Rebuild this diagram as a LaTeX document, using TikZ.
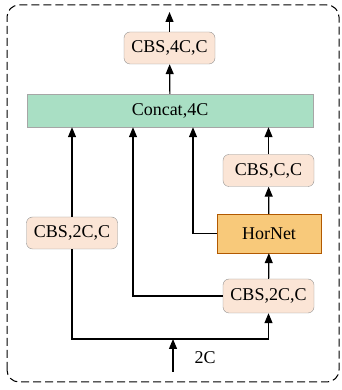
\documentclass[tikz,border=0pt]{standalone}
\usepackage{fontspec}
\setmainfont{Liberation Serif}
\usetikzlibrary{arrows.meta}
\definecolor{cbsfill}{HTML}{FBE5D6}
\definecolor{catfill}{HTML}{A9DFC4}
\definecolor{hornfill}{HTML}{F8C97A}
\begin{document}
\begin{tikzpicture}[x=1pt, y=1pt, font=\fontsize{18}{21}\selectfont,
    cbs/.style={draw=gray!85, fill=cbsfill, rounded corners=6pt, minimum width=91pt, minimum height=32pt, inner sep=0pt},
    flow/.style={line width=1.2pt, -{Triangle[length=10pt,width=8pt]}},
    wire/.style={line width=1.2pt}]
      \useasboundingbox (0, 0) rectangle (341, 390);
      \draw[line width=1pt, dash pattern=on 8pt off 4pt, rounded corners=12pt] (7, 8) rectangle (339, 385);
      \node[cbs] (cbsout) at (169.5, 342) {CBS,4C,C};
      \node[draw=gray!70, fill=catfill, minimum width=286pt, minimum height=33pt, inner sep=0pt] (concat) at (170, 279.5) {Concat,4C};
      \node[cbs] (cbscc) at (268.5, 219.5) {CBS,C,C};
      \node[draw=orange!70!black, fill=hornfill, minimum width=104pt, minimum height=39pt, inner sep=0pt] (hornet) at (269, 156.5) {HorNet};
      \node[cbs] (cbsleft) at (72, 157) {CBS,2C,C};
      \node[cbs, minimum height=34pt] (cbsright) at (268.5, 94) {CBS,2C,C};
      \node (inlabel) at (205, 32) {2C};
      \coordinate (out) at (169.5, 378);
      \coordinate (in) at (173, 18);
      \coordinate (split) at (173, 51);
      % main path
      \draw[flow] (in) -- (split);
      \draw[wire] (split) -| (cbsleft.south);
      \draw[flow] (split) -| (cbsright.south);
      \draw[flow] (cbsright) -- (hornet);
      \draw[flow] (hornet) -- (cbscc);
      \draw[flow] (cbscc) -- (cbscc |- concat.south);
      \draw[flow] (cbsleft) -- (cbsleft |- concat.south);
      % side branches
      \draw[flow] (cbsright.west) -| (133, 0 |- concat.south);
      \draw[flow] (hornet.west) -| (193, 0 |- concat.south);
      \draw[flow] (concat) -- (cbsout);
      \draw[flow] (cbsout) -- (out);
\end{tikzpicture}
\end{document}
